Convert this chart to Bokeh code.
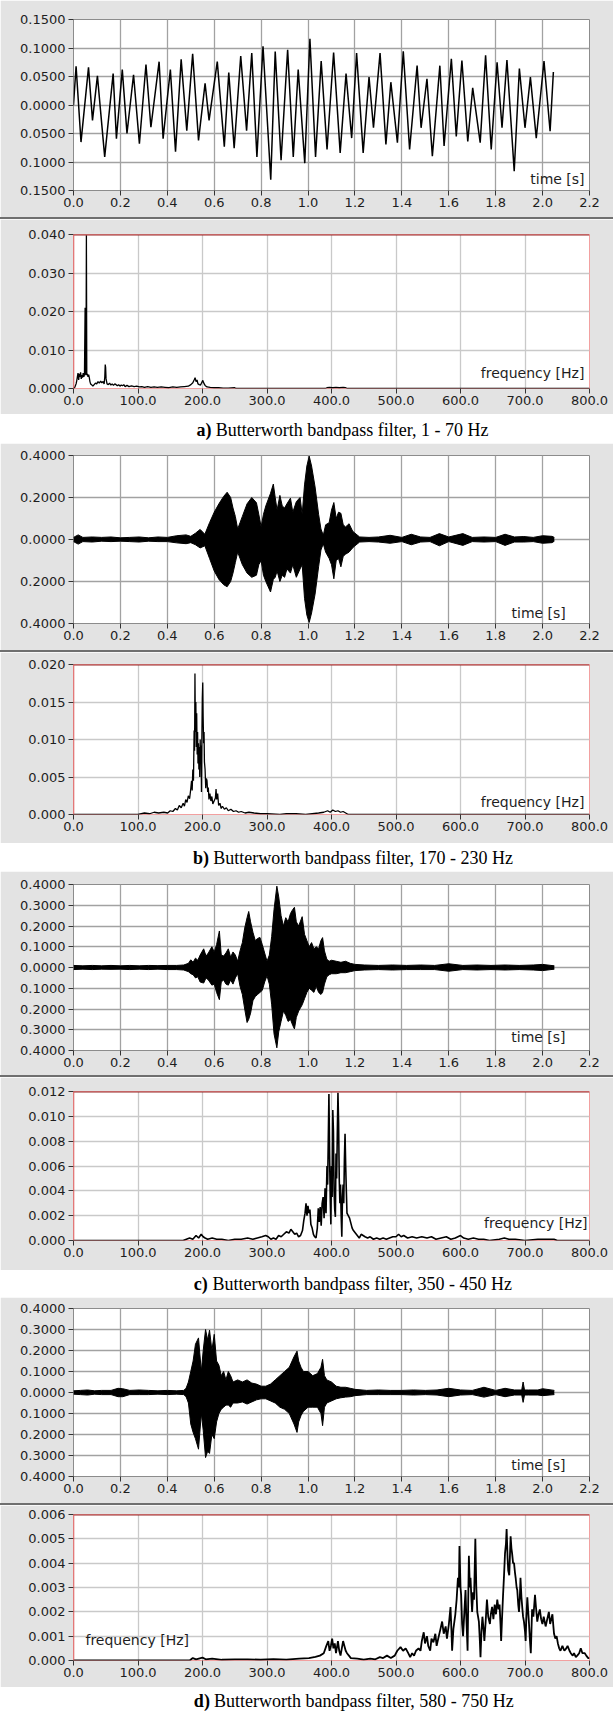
from bokeh.plotting import figure
from bokeh.models import FixedTicker, CustomJSTickFormatter, Label, Span, Spacer
from bokeh.layouts import column
from bokeh.embed import file_html
from bokeh.resources import INLINE

# ---------------- tick values ----------------
time_ticks = [0.0, 0.2, 0.4, 0.6, 0.8, 1.0, 1.2, 1.4, 1.6, 1.8, 2.0, 2.2]
freq_ticks = [0, 100, 200, 300, 400, 500, 600, 700, 800]
a_time_yticks = [-0.15, -0.10, -0.05, 0.0, 0.05, 0.10, 0.15]
b_time_yticks = [-0.4, -0.2, 0.0, 0.2, 0.4]
cd_time_yticks = [-0.4, -0.3, -0.2, -0.1, 0.0, 0.1, 0.2, 0.3, 0.4]
a_freq_yticks = [0.0, 0.01, 0.02, 0.03, 0.04]
b_freq_yticks = [0.0, 0.005, 0.010, 0.015, 0.020]
c_freq_yticks = [0.0, 0.002, 0.004, 0.006, 0.008, 0.010, 0.012]
d_freq_yticks = [0.0, 0.001, 0.002, 0.003, 0.004, 0.005, 0.006]

captions = [
    ("a)", "Butterworth bandpass filter, 1 - 70 Hz"),
    ("b)", "Butterworth bandpass filter, 170 - 230 Hz"),
    ("c)", "Butterworth bandpass filter, 350 - 450 Hz"),
    ("d)", "Butterworth bandpass filter, 580 - 750 Hz"),
]

# ---------------- panel a: time signal (extrema) ----------------
a_time = [0.000, 0.011, 0.032, 0.064, 0.081, 0.102, 0.133, 0.169, 0.183, 0.208,
          0.228, 0.256, 0.281, 0.309, 0.330, 0.365, 0.382, 0.413, 0.435, 0.459,
          0.483, 0.508, 0.533, 0.561, 0.578, 0.613, 0.643, 0.662, 0.685, 0.713,
          0.738, 0.760, 0.782, 0.808, 0.841, 0.860, 0.885, 0.913, 0.937, 0.958,
          0.986, 1.008, 1.032, 1.056, 1.081, 1.109, 1.137, 1.162, 1.186, 1.207,
          1.235, 1.260, 1.279, 1.307, 1.332, 1.353, 1.381, 1.406, 1.433, 1.465,
          1.482, 1.507, 1.530, 1.562, 1.580, 1.611, 1.632, 1.656, 1.681, 1.702,
          1.734, 1.757, 1.781, 1.806, 1.827, 1.848, 1.879, 1.901, 1.925, 1.948,
          1.973, 2.006, 2.032, 2.046]
a_signal = [0.000, 0.068, -0.065, 0.066, -0.027, 0.051, -0.091, 0.055, -0.059, 0.062,
            -0.050, 0.053, -0.068, 0.071, -0.039, 0.076, -0.059, 0.062, -0.082, 0.080,
            -0.045, 0.090, -0.062, 0.038, -0.027, 0.076, -0.073, 0.057, -0.076, 0.086,
            -0.045, 0.091, -0.091, 0.103, -0.131, 0.094, -0.097, 0.097, -0.091, 0.062,
            -0.102, 0.116, -0.091, 0.077, -0.078, 0.092, -0.084, 0.055, -0.058, 0.091,
            -0.084, 0.049, -0.040, 0.091, -0.069, 0.040, -0.066, 0.094, -0.078, 0.069,
            -0.040, 0.046, -0.090, 0.069, -0.072, 0.081, -0.055, 0.078, -0.064, 0.030,
            -0.066, 0.087, -0.078, 0.075, -0.040, 0.079, -0.116, 0.064, -0.040, 0.049,
            -0.058, 0.077, -0.046, 0.058]

# ---------------- panels b, c, d: signal envelopes (time, upper, lower) ----------------
b_envelope = [
    (0.00, 0.010, -0.010), (0.02, 0.022, -0.022), (0.04, 0.010, -0.010), (0.08, 0.012, -0.012),
    (0.12, 0.010, -0.008), (0.16, 0.012, -0.010), (0.20, 0.008, -0.008), (0.24, 0.010, -0.010),
    (0.28, 0.012, -0.012), (0.32, 0.008, -0.008), (0.36, 0.012, -0.010), (0.40, 0.010, -0.010),
    (0.44, 0.018, -0.016), (0.48, 0.022, -0.020), (0.50, 0.015, -0.015), (0.52, 0.030, -0.025),
    (0.54, 0.048, -0.040), (0.56, 0.025, -0.030), (0.58, 0.080, -0.090), (0.60, 0.130, -0.150),
    (0.62, 0.170, -0.190), (0.64, 0.205, -0.215), (0.655, 0.225, -0.225), (0.67, 0.200, -0.200),
    (0.68, 0.150, -0.160), (0.69, 0.110, -0.110), (0.70, 0.050, -0.060), (0.71, 0.080, -0.090),
    (0.72, 0.110, -0.120), (0.74, 0.170, -0.160), (0.76, 0.200, -0.180), (0.78, 0.175, -0.170),
    (0.79, 0.120, -0.120), (0.80, 0.060, -0.100), (0.81, 0.120, -0.170), (0.82, 0.160, -0.200),
    (0.84, 0.220, -0.250), (0.852, 0.264, -0.190), (0.86, 0.200, -0.180), (0.868, 0.140, -0.150),
    (0.88, 0.210, -0.200), (0.89, 0.160, -0.170), (0.90, 0.150, -0.180), (0.91, 0.170, -0.140),
    (0.925, 0.197, -0.160), (0.935, 0.130, -0.120), (0.95, 0.180, -0.180), (0.966, 0.200, -0.140),
    (0.975, 0.120, -0.120), (0.985, 0.260, -0.280), (0.995, 0.350, -0.360), (1.005, 0.397, -0.395),
    (1.015, 0.350, -0.350), (1.03, 0.250, -0.260), (1.045, 0.120, -0.130), (1.055, 0.050, -0.050),
    (1.065, 0.020, -0.020), (1.075, 0.070, -0.060), (1.09, 0.080, -0.090), (1.10, 0.140, -0.120),
    (1.11, 0.176, -0.187), (1.12, 0.100, -0.100), (1.13, 0.130, -0.090), (1.14, 0.125, -0.130),
    (1.15, 0.070, -0.080), (1.16, 0.060, -0.070), (1.175, 0.075, -0.060), (1.19, 0.040, -0.040),
    (1.20, 0.030, -0.030), (1.22, 0.012, -0.012), (1.26, 0.010, -0.010), (1.30, 0.012, -0.012),
    (1.35, 0.020, -0.018), (1.40, 0.010, -0.010), (1.44, 0.025, -0.025), (1.48, 0.012, -0.012),
    (1.52, 0.010, -0.010), (1.56, 0.028, -0.030), (1.60, 0.012, -0.010), (1.66, 0.028, -0.028),
    (1.70, 0.010, -0.010), (1.75, 0.012, -0.012), (1.80, 0.010, -0.010), (1.84, 0.025, -0.028),
    (1.88, 0.012, -0.012), (1.92, 0.014, -0.012), (1.96, 0.010, -0.010), (2.00, 0.018, -0.018),
    (2.04, 0.015, -0.015), (2.05, 0.010, -0.008),
]

c_envelope = [
    (0.00, 0.010, -0.010), (0.04, 0.008, -0.008), (0.08, 0.010, -0.010), (0.12, 0.008, -0.008),
    (0.16, 0.010, -0.009), (0.20, 0.008, -0.008), (0.24, 0.010, -0.010), (0.28, 0.008, -0.008),
    (0.32, 0.010, -0.010), (0.36, 0.009, -0.008), (0.40, 0.010, -0.010), (0.44, 0.010, -0.010),
    (0.47, 0.012, -0.012), (0.49, 0.020, -0.020), (0.50, 0.037, -0.030), (0.51, 0.025, -0.035),
    (0.52, 0.045, -0.050), (0.53, 0.035, -0.045), (0.54, 0.060, -0.070), (0.555, 0.090, -0.075),
    (0.565, 0.055, -0.050), (0.575, 0.070, -0.060), (0.59, 0.100, -0.085), (0.60, 0.075, -0.080),
    (0.61, 0.110, -0.120), (0.622, 0.176, -0.155), (0.63, 0.060, -0.070), (0.64, 0.055, -0.060),
    (0.65, 0.070, -0.080), (0.66, 0.090, -0.085), (0.67, 0.050, -0.060), (0.68, 0.075, -0.080),
    (0.69, 0.060, -0.050), (0.70, 0.030, -0.030), (0.71, 0.080, -0.090), (0.72, 0.120, -0.130),
    (0.73, 0.190, -0.200), (0.74, 0.240, -0.265), (0.747, 0.270, -0.250), (0.755, 0.220, -0.220),
    (0.765, 0.170, -0.160), (0.775, 0.130, -0.140), (0.785, 0.140, -0.130), (0.795, 0.145, -0.120),
    (0.805, 0.110, -0.110), (0.815, 0.070, -0.070), (0.825, 0.030, -0.040), (0.835, 0.060, -0.080),
    (0.845, 0.150, -0.180), (0.855, 0.280, -0.320), (0.867, 0.392, -0.387), (0.875, 0.340, -0.310),
    (0.885, 0.250, -0.260), (0.895, 0.200, -0.210), (0.905, 0.240, -0.230), (0.915, 0.220, -0.260),
    (0.925, 0.260, -0.250), (0.935, 0.280, -0.280), (0.942, 0.290, -0.296), (0.95, 0.220, -0.240),
    (0.96, 0.200, -0.210), (0.975, 0.245, -0.180), (0.985, 0.160, -0.150), (0.995, 0.130, -0.120),
    (1.005, 0.100, -0.100), (1.015, 0.120, -0.110), (1.025, 0.090, -0.120), (1.035, 0.100, -0.090),
    (1.045, 0.090, -0.120), (1.055, 0.130, -0.130), (1.062, 0.144, -0.120), (1.07, 0.080, -0.080),
    (1.08, 0.040, -0.045), (1.09, 0.030, -0.035), (1.10, 0.035, -0.030), (1.12, 0.030, -0.030),
    (1.14, 0.025, -0.025), (1.16, 0.030, -0.025), (1.18, 0.020, -0.020), (1.20, 0.015, -0.015),
    (1.24, 0.012, -0.012), (1.30, 0.010, -0.010), (1.36, 0.012, -0.012), (1.42, 0.010, -0.010),
    (1.48, 0.012, -0.010), (1.54, 0.010, -0.010), (1.60, 0.018, -0.018), (1.66, 0.010, -0.010),
    (1.72, 0.012, -0.012), (1.78, 0.010, -0.010), (1.84, 0.012, -0.012), (1.90, 0.010, -0.010),
    (1.96, 0.012, -0.012), (2.00, 0.015, -0.015), (2.05, 0.008, -0.008),
]

d_envelope = [
    (0.00, 0.008, -0.008), (0.03, 0.010, -0.010), (0.06, 0.012, -0.012), (0.09, 0.008, -0.008),
    (0.12, 0.010, -0.010), (0.16, 0.010, -0.010), (0.19, 0.020, -0.020), (0.21, 0.018, -0.020),
    (0.24, 0.010, -0.010), (0.28, 0.012, -0.010), (0.32, 0.010, -0.010), (0.36, 0.008, -0.008),
    (0.40, 0.010, -0.010), (0.44, 0.008, -0.008), (0.47, 0.010, -0.010), (0.48, 0.020, -0.020),
    (0.49, 0.050, -0.050), (0.50, 0.100, -0.150), (0.51, 0.150, -0.190), (0.52, 0.230, -0.220),
    (0.533, 0.260, -0.270), (0.545, 0.100, -0.100), (0.553, 0.200, -0.180), (0.563, 0.300, -0.310),
    (0.572, 0.250, -0.280), (0.58, 0.297, -0.290), (0.59, 0.200, -0.200), (0.60, 0.277, -0.220),
    (0.61, 0.150, -0.140), (0.62, 0.130, -0.100), (0.63, 0.080, -0.080), (0.64, 0.100, -0.070),
    (0.65, 0.060, -0.060), (0.66, 0.100, -0.060), (0.67, 0.080, -0.070), (0.68, 0.050, -0.050),
    (0.70, 0.060, -0.050), (0.72, 0.050, -0.045), (0.74, 0.060, -0.055), (0.76, 0.045, -0.045),
    (0.78, 0.040, -0.035), (0.80, 0.030, -0.030), (0.82, 0.030, -0.030), (0.84, 0.040, -0.040),
    (0.86, 0.060, -0.050), (0.88, 0.080, -0.070), (0.90, 0.100, -0.080), (0.92, 0.120, -0.100),
    (0.94, 0.170, -0.150), (0.953, 0.197, -0.190), (0.96, 0.150, -0.140), (0.97, 0.120, -0.110),
    (0.98, 0.100, -0.090), (1.00, 0.100, -0.070), (1.02, 0.080, -0.070), (1.04, 0.090, -0.070),
    (1.055, 0.120, -0.100), (1.062, 0.158, -0.158), (1.07, 0.080, -0.070), (1.08, 0.060, -0.050),
    (1.10, 0.050, -0.040), (1.12, 0.030, -0.030), (1.14, 0.025, -0.025), (1.16, 0.025, -0.022),
    (1.18, 0.020, -0.020), (1.20, 0.015, -0.015), (1.25, 0.010, -0.010), (1.30, 0.012, -0.010),
    (1.35, 0.010, -0.010), (1.40, 0.010, -0.010), (1.45, 0.012, -0.012), (1.50, 0.010, -0.010),
    (1.55, 0.012, -0.012), (1.60, 0.020, -0.020), (1.65, 0.012, -0.012), (1.70, 0.010, -0.010),
    (1.75, 0.025, -0.022), (1.80, 0.010, -0.010), (1.84, 0.020, -0.020), (1.88, 0.012, -0.012),
    (1.911, 0.012, -0.012), (1.917, 0.050, -0.047), (1.923, 0.012, -0.012), (1.94, 0.012, -0.012),
    (1.98, 0.012, -0.012), (2.00, 0.018, -0.015), (2.05, 0.010, -0.010),
]

# ---------------- spectra (frequency Hz, amplitude) ----------------
a_spectrum = [
    (0, 0.0), (2, 0.0003), (4, 0.0012), (5, 0.0020), (6, 0.0030), (7, 0.0040), (8, 0.0022),
    (9, 0.0038), (10, 0.0030), (11, 0.0042), (12, 0.0025), (13, 0.0035), (14, 0.0028),
    (15, 0.0040), (16, 0.0030), (17, 0.0036), (18, 0.0210), (18.7, 0.0040), (19.3, 0.0035),
    (20, 0.0398), (20.6, 0.0035), (21.5, 0.0038), (22.5, 0.0030), (23.5, 0.0036), (24.5, 0.0028),
    (25.5, 0.0018), (26.5, 0.0012), (28, 0.0010), (30, 0.0006), (32, 0.0010), (34, 0.0014),
    (36, 0.0012), (38, 0.0018), (40, 0.0014), (42, 0.0019), (44, 0.0015), (46, 0.0018),
    (47.5, 0.0012), (48.5, 0.0030), (49.2, 0.0062), (49.8, 0.0055), (50.5, 0.0025), (52, 0.0012),
    (54, 0.0010), (56, 0.0014), (58, 0.0009), (60, 0.0012), (62, 0.0008), (64, 0.0012),
    (66, 0.0010), (68, 0.0007), (70, 0.0010), (72, 0.0006), (74, 0.0009), (76, 0.0007),
    (78, 0.0010), (80, 0.0005), (83, 0.0008), (86, 0.0005), (90, 0.0007), (94, 0.0005),
    (98, 0.0006), (102, 0.0004), (106, 0.0005), (110, 0.0003), (115, 0.0005), (120, 0.0003),
    (125, 0.0004), (130, 0.0003), (136, 0.0004), (142, 0.0003), (148, 0.0002), (154, 0.0004),
    (160, 0.0003), (166, 0.0004), (172, 0.0005), (178, 0.0006), (182, 0.0010), (185, 0.0015),
    (187, 0.0022), (188.5, 0.0028), (190, 0.0018), (191.5, 0.0022), (193, 0.0012), (195, 0.0010),
    (197, 0.0009), (199, 0.0016), (200.5, 0.0021), (202, 0.0014), (204, 0.0008), (207, 0.0004),
    (212, 0.0003), (218, 0.0002), (225, 0.0002), (232, 0.0001), (240, 0.0001), (250, 0.0002),
    (252, 0.0), (390, 0.0), (393, 0.0002), (397, 0.0003), (402, 0.0002), (407, 0.0003),
    (412, 0.0002), (418, 0.0003), (422, 0.0002), (425, 0.0), (800, 0.0),
]

b_spectrum = [
    (0, 0.0), (100, 0.0), (110, 0.0002), (118, 0.0001), (125, 0.0003), (132, 0.0002),
    (140, 0.0003), (146, 0.0002), (150, 0.0005), (154, 0.0004), (158, 0.0008), (161, 0.0006),
    (164, 0.0012), (167, 0.0009), (170, 0.0015), (172, 0.0011), (174, 0.0020), (176, 0.0016),
    (178, 0.0025), (180, 0.0021), (181.5, 0.0032), (183, 0.0045), (184, 0.0032), (185, 0.0060),
    (186, 0.0045), (187, 0.0112), (187.7, 0.0085), (188.3, 0.0188), (189, 0.0110), (189.7, 0.0150),
    (190.4, 0.0090), (191, 0.0135), (191.7, 0.0080), (192.4, 0.0110), (193, 0.0068), (193.7, 0.0095),
    (194.4, 0.0060), (195, 0.0090), (195.7, 0.0050), (196.4, 0.0100), (197, 0.0070), (197.7, 0.0092),
    (198.4, 0.0030), (199, 0.0100), (199.7, 0.0155), (200.4, 0.0176), (201, 0.0130), (201.7, 0.0095),
    (202.4, 0.0110), (203, 0.0070), (204, 0.0060), (205, 0.0035), (206, 0.0048), (207, 0.0045),
    (208, 0.0030), (209, 0.0036), (210, 0.0020), (211.5, 0.0028), (213, 0.0018), (214.5, 0.0024),
    (216, 0.0014), (218, 0.0018), (220, 0.0022), (221, 0.0034), (222, 0.0020), (223.5, 0.0028),
    (225, 0.0012), (227, 0.0015), (229, 0.0008), (231, 0.0011), (234, 0.0007), (237, 0.0009),
    (240, 0.0005), (244, 0.0007), (248, 0.0004), (252, 0.0005), (256, 0.0003), (260, 0.0004),
    (266, 0.0002), (272, 0.0003), (280, 0.0002), (290, 0.0001), (300, 0.0001), (320, 0.0),
    (330, 0.0001), (345, 0.0001), (360, 0.0), (370, 0.0001), (380, 0.0002), (388, 0.0003),
    (394, 0.0005), (398, 0.0003), (402, 0.0006), (406, 0.0004), (410, 0.0005), (414, 0.0003),
    (418, 0.0004), (422, 0.0002), (426, 0.0), (800, 0.0),
]

c_spectrum = [
    (0, 0.0), (170, 0.0), (175, 0.0001), (180, 0.0002), (185, 0.0001), (190, 0.0004), (194, 0.0002),
    (198, 0.0005), (201, 0.0003), (204, 0.0002), (208, 0.0001), (215, 0.0002), (222, 0.0001),
    (230, 0.0001), (240, 0.0), (250, 0.0001), (260, 0.0001), (270, 0.0002), (278, 0.0001),
    (285, 0.0002), (292, 0.0003), (298, 0.0004), (302, 0.0003), (306, 0.0001), (310, 0.0002),
    (314, 0.0001), (318, 0.0004), (322, 0.0003), (326, 0.0005), (330, 0.0007), (334, 0.0006),
    (337, 0.0009), (340, 0.0007), (343, 0.0005), (346, 0.0006), (349, 0.0003), (352, 0.0004),
    (355, 0.0008), (357, 0.0016), (359, 0.0022), (360.5, 0.0030), (362, 0.0020), (363.5, 0.0028),
    (365, 0.0022), (366.5, 0.0025), (368, 0.0013), (370, 0.0010), (372, 0.0005), (374, 0.0003),
    (376, 0.0002), (378, 0.0010), (379.5, 0.0026), (381, 0.0015), (382.5, 0.0027), (384, 0.0012),
    (385.5, 0.0030), (387, 0.0035), (388.5, 0.0018), (390, 0.0042), (391.5, 0.0022), (393, 0.0060),
    (394, 0.0045), (395, 0.0080), (396, 0.0118), (397, 0.0070), (398, 0.0035), (399, 0.0013),
    (400, 0.0060), (401, 0.0035), (402, 0.0105), (403, 0.0088), (404, 0.0040), (405, 0.0025),
    (406, 0.0019), (407, 0.0070), (408, 0.0050), (409, 0.0085), (410, 0.0119), (411, 0.0095),
    (412, 0.0050), (413, 0.0030), (414, 0.0045), (415, 0.0020), (416, 0.0003), (417, 0.0035),
    (418, 0.0045), (419, 0.0030), (420, 0.0065), (421, 0.0086), (422, 0.0060), (423, 0.0040),
    (424, 0.0022), (426, 0.0020), (428, 0.0018), (430, 0.0014), (432, 0.0010), (434, 0.0008),
    (437, 0.0006), (440, 0.0004), (443, 0.0002), (446, 0.0005), (449, 0.0004), (452, 0.0003),
    (456, 0.0002), (460, 0.0003), (465, 0.0001), (470, 0.0002), (475, 0.0001), (480, 0.0002),
    (485, 0.0001), (490, 0.0002), (495, 0.0003), (500, 0.0003), (504, 0.0005), (508, 0.0003),
    (512, 0.0004), (518, 0.0002), (525, 0.0003), (532, 0.0002), (540, 0.0003), (548, 0.0002),
    (555, 0.0003), (562, 0.0001), (570, 0.0002), (578, 0.0003), (585, 0.0001), (592, 0.0002),
    (600, 0.0004), (605, 0.0002), (612, 0.0001), (620, 0.0002), (628, 0.0001), (636, 0.0001),
    (645, 0.0), (660, 0.0001), (668, 0.0002), (675, 0.0001), (685, 0.0001), (700, 0.0),
    (720, 0.0001), (745, 0.0001), (750, 0.0), (800, 0.0),
]

d_spectrum = [
    (0, 0.0), (180, 0.0), (185, 0.0001), (190, 0.00005), (200, 0.00012), (205, 0.00005),
    (215, 0.00008), (230, 0.00003), (250, 0.00005), (270, 0.00005), (290, 0.00003), (310, 0.00006),
    (330, 0.00004), (350, 0.00008), (365, 0.0001), (375, 0.00015), (382, 0.0002), (388, 0.0003),
    (392, 0.0006), (395, 0.0008), (397, 0.0004), (399, 0.0006), (401, 0.0009), (403, 0.0005),
    (405, 0.0007), (407, 0.0003), (410, 0.0008), (412, 0.0004), (414, 0.0002), (416, 0.0005),
    (418, 0.0008), (420, 0.0006), (422, 0.0004), (424, 0.0003), (427, 0.0002), (430, 0.0001),
    (440, 0.00008), (450, 0.00004), (460, 0.00008), (468, 0.00005), (475, 0.00014), (480, 0.0001),
    (486, 0.0002), (492, 0.0001), (498, 0.0002), (502, 0.0004), (507, 0.00055), (511, 0.0004),
    (515, 0.0005), (519, 0.0003), (522, 0.00014), (525, 0.0003), (528, 0.0002), (531, 0.0004),
    (535, 0.0005), (538, 0.0004), (540, 0.0008), (543, 0.00116), (545, 0.0007), (548, 0.0010),
    (550, 0.0006), (553, 0.0004), (555, 0.0009), (558, 0.00075), (561, 0.0011), (563, 0.0006),
    (566, 0.00096), (569, 0.0013), (571.5, 0.0016), (574, 0.0011), (577, 0.0014), (579, 0.0009),
    (582, 0.0015), (584.5, 0.0022), (586, 0.0012), (587, 0.0004), (589, 0.0013), (592, 0.0019),
    (594, 0.0025), (596, 0.0034), (597.5, 0.0030), (598.4, 0.0047), (600, 0.0030), (601, 0.0027),
    (602.5, 0.0015), (604, 0.0010), (606, 0.0020), (607.8, 0.0029), (609, 0.0018), (611, 0.0004),
    (612, 0.0025), (613, 0.0043), (614.5, 0.0030), (615.5, 0.0034), (617, 0.0025), (618, 0.0020),
    (619.5, 0.0028), (621, 0.0025), (623, 0.0050), (624.5, 0.0030), (626, 0.0020), (628.5, 0.0016),
    (630, 0.0008), (631, 0.00014), (632.5, 0.0012), (634, 0.0018), (636, 0.0012), (637, 0.0008),
    (639, 0.0016), (641, 0.0025), (643, 0.0018), (645.6, 0.0015), (647, 0.0019), (649, 0.0022),
    (651, 0.0017), (653, 0.0023), (655, 0.0019), (657, 0.0025), (659, 0.0021), (660.6, 0.0023),
    (662, 0.0015), (663, 0.0008), (664.5, 0.0018), (666, 0.0027), (667.5, 0.0035), (669, 0.0044),
    (670.5, 0.0048), (671.5, 0.0054), (673, 0.0042), (674, 0.0037), (675.6, 0.0035), (677.7, 0.0051),
    (679, 0.0046), (680, 0.0044), (681.5, 0.0040), (683, 0.0040), (684.5, 0.0036), (685.5, 0.0034),
    (687, 0.0030), (688, 0.0029), (689.5, 0.0023), (690.7, 0.0020), (692, 0.0026), (693, 0.0034),
    (694.5, 0.0026), (696, 0.0021), (697, 0.0018), (698.4, 0.0016), (700, 0.0012), (701, 0.0008),
    (702, 0.0017), (703.6, 0.0026), (705, 0.0020), (706, 0.0016), (707.5, 0.0009), (709, 0.0003),
    (710, 0.0012), (711, 0.0021), (713, 0.0018), (715.5, 0.0027), (717, 0.0022), (719, 0.0016),
    (721, 0.0019), (723, 0.0021), (725, 0.0017), (727, 0.0015), (729, 0.0018), (732, 0.0014),
    (734.5, 0.0017), (737, 0.0020), (739, 0.0015), (742.5, 0.0019), (744, 0.0014), (745, 0.0011),
    (747, 0.0009), (749, 0.0010), (751, 0.0007), (753, 0.0005), (755, 0.0004), (758, 0.0006),
    (761, 0.0004), (764, 0.0005), (766, 0.0006), (769, 0.0004), (771, 0.0003), (774, 0.0002),
    (776, 0.0003), (778.8, 0.00014), (781, 0.0002), (784, 0.0003), (786.5, 0.0005), (789, 0.0003),
    (792.7, 0.0003), (795, 0.0002), (798, 0.0001), (800, 0.0001),
]

# ---------------- styling ----------------
W = 613
PANEL_BG = "#e3e3e3"
TICK_FONT = "DejaVu Sans"
TICK_SIZE = "13px"
INNER_SIZE = "14px"


def make_panel(h, top, bottom, left, right, xr, yr, xticks, yticks, xdec, ydec,
               grid_color, outline_color):
    p = figure(width=W, height=h, x_range=xr, y_range=yr, output_backend="svg",
               toolbar_location=None, min_border_top=top, min_border_bottom=bottom,
               min_border_left=left, min_border_right=right)
    p.border_fill_color = PANEL_BG
    p.background_fill_color = "white"
    p.outline_line_color = outline_color
    p.outline_line_width = 1
    p.xaxis.ticker = FixedTicker(ticks=xticks)
    p.yaxis.ticker = FixedTicker(ticks=yticks)
    p.xgrid.ticker = FixedTicker(ticks=xticks)
    p.ygrid.ticker = FixedTicker(ticks=yticks)
    p.xaxis.formatter = CustomJSTickFormatter(code="return Math.abs(tick).toFixed(%d);" % xdec)
    p.yaxis.formatter = CustomJSTickFormatter(code="return Math.abs(tick).toFixed(%d);" % ydec)
    for ax in (p.xaxis[0], p.yaxis[0]):
        ax.axis_line_color = None
        ax.major_tick_line_color = "#333333"
        ax.major_tick_out = 5
        ax.major_tick_in = 0
        ax.minor_tick_line_color = None
        ax.major_label_text_font = TICK_FONT
        ax.major_label_text_font_size = TICK_SIZE
        ax.major_label_text_color = "#1e1e1e"
    p.xaxis[0].major_label_standoff = 2
    p.yaxis[0].major_label_standoff = 3
    p.grid.grid_line_color = grid_color
    p.grid.grid_line_width = 1.3
    return p


def inner_label(p, x, y, text, align="right"):
    p.add_layout(Label(x=x, y=y, text=text, text_align=align, text_baseline="middle",
                       text_font=TICK_FONT, text_font_size=INNER_SIZE, text_color="#1e1e1e"))


def time_panel(h, top, bottom, left, right, yr, yticks, label_x, label_y):
    p = make_panel(h, top, bottom, left, right, (0, 2.2), yr, time_ticks, yticks, 1, 4,
                   "#a2a2a2", "#8c8c8c")
    inner_label(p, label_x, label_y, "time [s]")
    return p


def envelope(p, rows):
    t = [r[0] for r in rows]
    up = [r[1] for r in rows]
    lo = [r[2] for r in rows]
    p.varea(x=t, y1=lo, y2=up, fill_color="black")
    p.line(t, up, line_color="black", line_width=1)
    p.line(t, lo, line_color="black", line_width=1)


def freq_panel(h, top, bottom, left, right, ymax, yticks, rows, label_x, label_y,
               align="right", lw=1.3):
    p = make_panel(h, top, bottom, left, right, (0, 800), (0, ymax), freq_ticks, yticks, 1, 3,
                   "#c9c9c9", "#f2a0a0")
    p.add_layout(Span(location=ymax, dimension="width", line_color="#962626", line_width=2))
    p.add_layout(Span(location=0, dimension="height", line_color="#d45050", line_width=1.5))
    f = [r[0] for r in rows]
    a = [r[1] for r in rows]
    p.line(f, a, line_color="black", line_width=lw)
    inner_label(p, label_x, label_y, "frequency [Hz]", align)
    return p


def caption_fig(h, yc, x_bold, x_rest, bold, rest):
    p = figure(width=W, height=h, x_range=(0, W), y_range=(0, h), output_backend="svg",
               toolbar_location=None, x_axis_type=None, y_axis_type=None, min_border=0)
    p.outline_line_color = None
    p.background_fill_color = "white"
    p.border_fill_color = "white"
    p.add_layout(Label(x=x_bold, y=h - yc, text=bold, text_font="Liberation Serif",
                       text_font_style="bold", text_font_size="18px", text_baseline="middle",
                       text_align="left", text_color="black"))
    p.add_layout(Label(x=x_rest, y=h - yc, text=rest, text_font="Liberation Serif",
                       text_font_size="18px", text_baseline="middle", text_align="left",
                       text_color="black"))
    return p


def separator():
    return Spacer(width=W, height=2, styles={"background-color": "#6f6f6f"})


# ---- a ----
pa_t = time_panel(217, 19, 27, 69, 21, (-0.15, 0.15), a_time_yticks, 2.179, -0.129)
pa_t.line(a_time, a_signal, line_color="black", line_width=1.5)
pa_f = freq_panel(195, 15, 26, 69, 21, 0.04, a_freq_yticks, a_spectrum, 792, 0.004)
cap_a = caption_fig(29, 15, 146, 169, captions[0][0], captions[0][1])

# ---- b ----
pb_t = time_panel(207, 12, 27, 69, 21, (-0.4, 0.4), b_time_yticks, 2.099, -0.348)
envelope(pb_t, b_envelope)
pb_f = freq_panel(191, 12, 29, 69, 21, 0.02, b_freq_yticks, b_spectrum, 792, 0.0017)
cap_b = caption_fig(28, 14, 142, 166, captions[1][0], captions[1][1])

# ---- c ----
pc_t = time_panel(204, 13, 25, 73, 24, (-0.4, 0.4), cd_time_yticks, 2.098, -0.337)
envelope(pc_t, c_envelope)
pc_f = freq_panel(193, 14, 30, 73, 24, 0.012, c_freq_yticks, c_spectrum, 797, 0.0014, lw=1.6)
cap_c = caption_fig(27, 13, 143, 165, captions[2][0], captions[2][1])

# ---- d ----
pd_t = time_panel(206, 11, 27, 73, 24, (-0.4, 0.4), cd_time_yticks, 2.098, -0.343)
envelope(pd_t, d_envelope)
pd_f = freq_panel(182, 9, 27, 73, 24, 0.006, d_freq_yticks, d_spectrum, 18.6, 0.00086,
                  "left", lw=1.8)
cap_d = caption_fig(27, 13, 143, 167, captions[3][0], captions[3][1])

layout = column(pa_t, separator(), pa_f, cap_a,
                pb_t, separator(), pb_f, cap_b,
                pc_t, separator(), pc_f, cap_c,
                pd_t, separator(), pd_f, cap_d, spacing=0)

open("out.html", "w").write(file_html(layout, INLINE))
